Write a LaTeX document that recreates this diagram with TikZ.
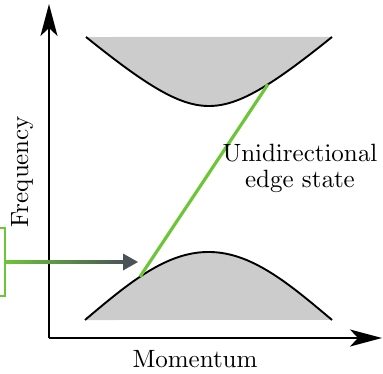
\documentclass[tikz,border=0pt]{standalone}
\usetikzlibrary{arrows.meta}
\font\labelfont=cmr10 at 25pt
\newcommand\lblfontsel{\labelfont\baselineskip=26pt\relax}
\definecolor{edgegreen}{RGB}{108,198,56}
\definecolor{slategrey}{RGB}{74,84,88}
\definecolor{bandgrey}{RGB}{204,204,204}
\tikzset{
  axis/.style={line width=1.9pt, -{Stealth[length=32pt, width=17pt, inset=8pt]}},
  bandedge/.style={line width=1.9pt},
  edgeline/.style={edgegreen, line width=3.2pt},
  lbl/.style={font=\lblfontsel, inner sep=0pt}
}
\begin{document}
\begin{tikzpicture}[x=1pt,y=-1pt]
\useasboundingbox (0,0) rectangle (383,373);
% bands
\fill[bandgrey] (86,37) -- plot[domain=86:332,samples=80,smooth] (\x,{106-53.9*(sqrt(1+((\x-209)/60)^2)-1)}) -- cycle;
\draw[bandedge] plot[domain=86:332,samples=80,smooth] (\x,{106-53.9*(sqrt(1+((\x-209)/60)^2)-1)});
\fill[bandgrey] (85,320) -- plot[domain=85:332,samples=80,smooth] (\x,{252+168.7*(1-exp(-((\x-208.5)/172)^2))}) -- cycle;
\draw[bandedge] plot[domain=85:332,samples=80,smooth] (\x,{252+168.7*(1-exp(-((\x-208.5)/172)^2))});
% axes
\coordinate (o) at (49,338);
\coordinate (ytip) at (49,4);
\coordinate (xtip) at (382,338);
\draw[axis] (o) -- (ytip);
\draw[axis] (o) -- (xtip);
% edge state
\coordinate (lo) at (140,276.7);
\coordinate (hi) at (268,84.3);
\draw[edgeline] (lo) -- (hi);
% bracket and arrow
\draw[edgegreen, line width=2.2pt] (0,228) -- (5,228) -- (5,296) -- (0,296);
\coordinate (astart) at (5,262);
\coordinate (abase) at (123,262);
\coordinate (atip) at (138,262);
\shade[left color=edgegreen, right color=slategrey] (5,260.2) rectangle (124,263.8);
\fill[slategrey] (123,253.5) -- (atip) -- (123,270.5) -- cycle;
% labels
\node[lbl, rotate=90, anchor=base] (freq) at (28,171.5) {Frequency};
\node[lbl, anchor=base] (mom) at (195,367) {Momentum};
\node[lbl, anchor=base, align=center] (ues) at (300,187) {Unidirectional\\edge state};
\end{tikzpicture}
\end{document}
